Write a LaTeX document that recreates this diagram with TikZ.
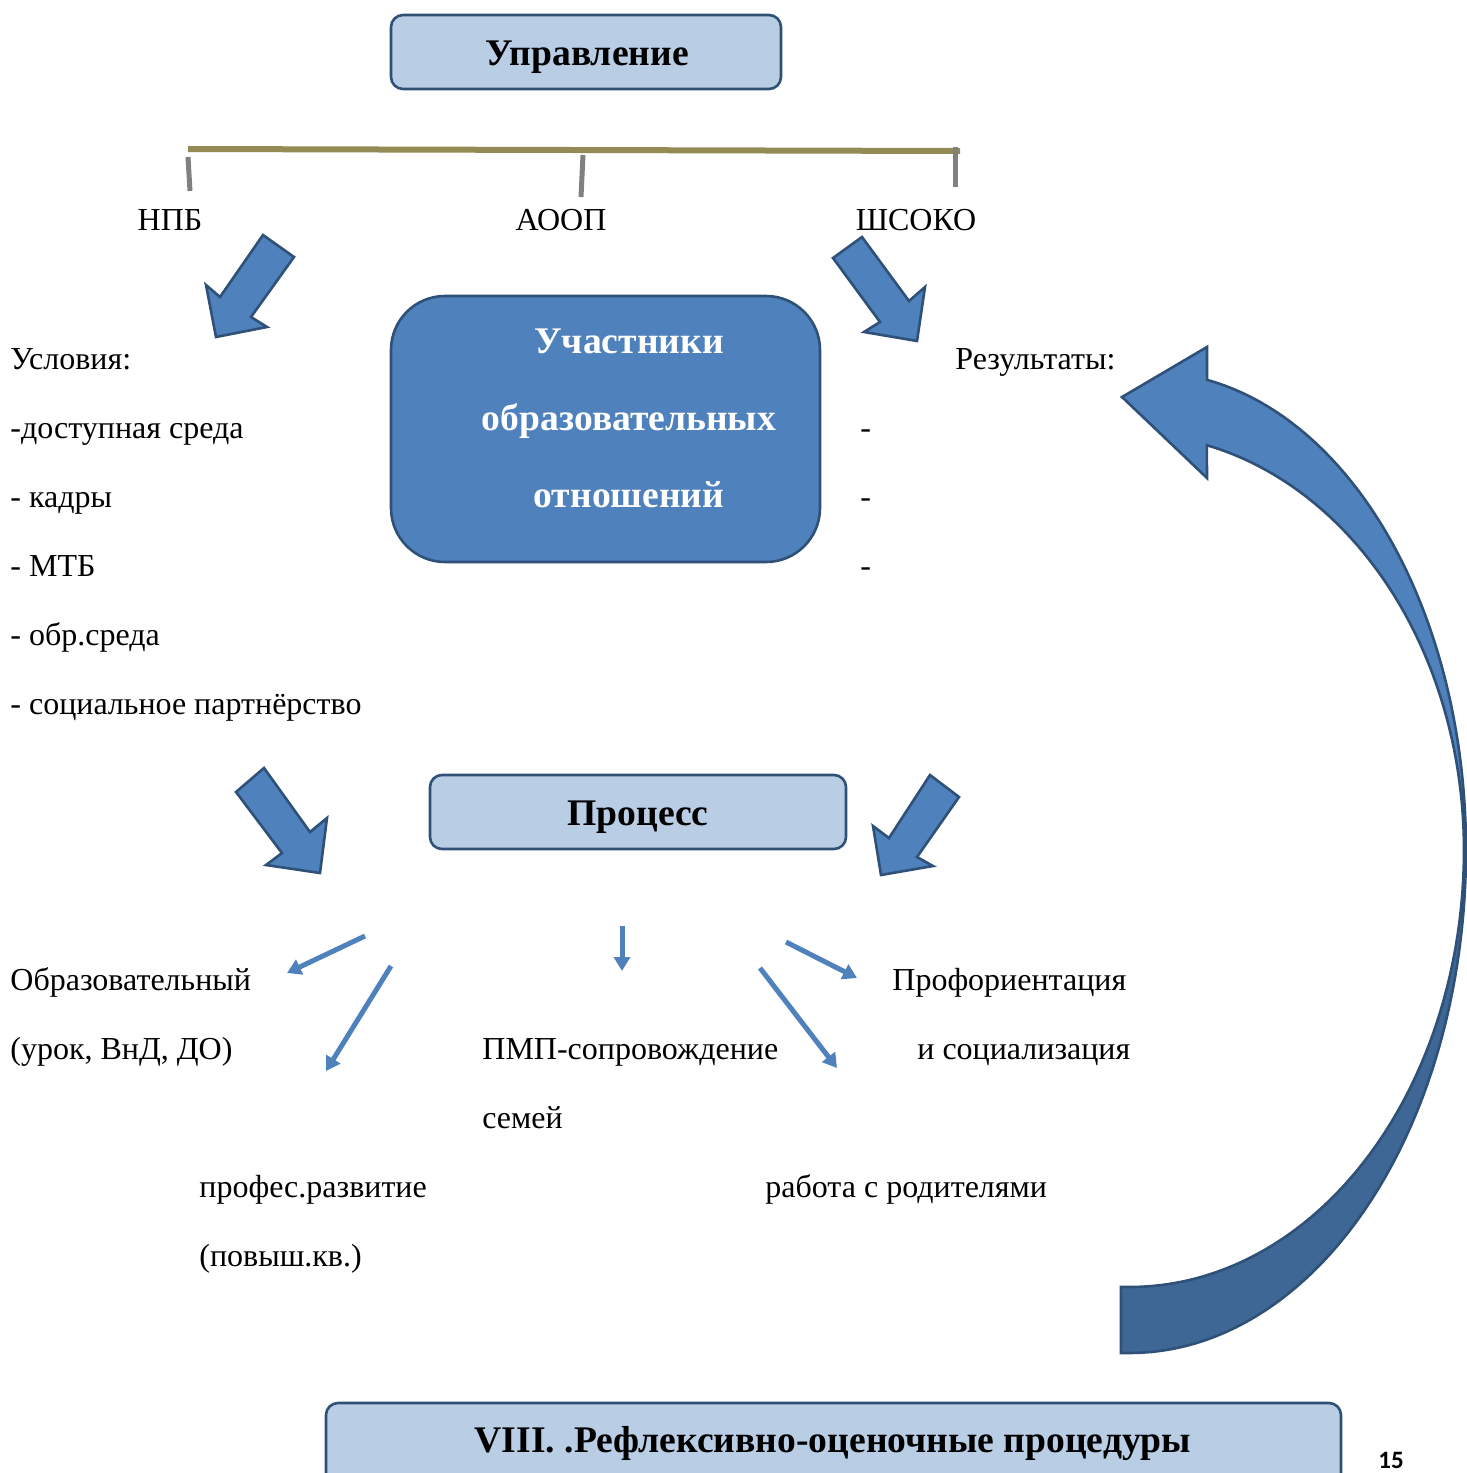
\documentclass[tikz,border=0pt]{standalone}
\usepackage{fontspec}
\setmainfont{Liberation Serif}
\newfontfamily\numfont{Carlito}
\usetikzlibrary{arrows.meta}
\definecolor{lightfill}{HTML}{B9CDE5}
\definecolor{boxline}{HTML}{2F5077}
\definecolor{mainblue}{HTML}{4F81BD}
\definecolor{darkblue}{HTML}{3E6796}
\definecolor{olivec}{HTML}{948A54}
\definecolor{tickgray}{HTML}{808080}
\def\crvpath{(1121,1353) -- plot[domain=90:0,samples=50] ({1130+336*cos(\x)},{850+503*sin(\x)}) -- plot[domain=0:-79.6,samples=50] ({1150+316*cos(\x)},{850+478*sin(\x)}) -- (1207,347) -- (1122,397) -- (1207,478) -- plot[domain=-76.7:0,samples=50] ({1130+334*cos(\x)},{850+416*sin(\x)}) -- plot[domain=0:90,samples=50] ({1130+334*cos(\x)},{850+437*sin(\x)}) -- (1121,1287) -- cycle}
\begin{document}
\begin{tikzpicture}[x=0.5pt,y=-0.5pt,
  txt/.style={anchor=base west, inner sep=0pt, font=\fontsize{16}{19}\selectfont},
  ctxt/.style={anchor=base, inner sep=0pt, font=\fontsize{16}{19}\selectfont},
  btxt/.style={anchor=base, inner sep=0pt, font=\fontsize{18.8}{22}\selectfont\bfseries},
  lightbox/.style={draw=boxline, fill=lightfill, line width=1.3pt, rounded corners=6pt},
  bluebox/.style={draw=boxline, fill=mainblue, line width=1.3pt, rounded corners=27pt},
  blockarrow/.style={draw=boxline, fill=mainblue, line width=1.3pt, line join=miter},
  thinarrow/.style={draw=mainblue, line width=2.5pt, -{Triangle[length=7pt,width=8pt]}},
]
\useasboundingbox (0,0) rectangle (1467,1473);
\clip (0,0) rectangle (1467,1473);

% top box
\path[lightbox] (391,15) rectangle (781,89);
\node[btxt] (upr) at (587,65) {Управление};

% olive bar and ticks
\draw[olivec, line width=3pt] (188,149) -- (960,151);
\draw[tickgray, line width=2.5pt] (188,157) -- (190,191);
\draw[tickgray, line width=2.5pt] (583,155) -- (581,197);
\draw[tickgray, line width=2.5pt] (955,147) -- (955,187);

\node[ctxt] (npb) at (170,230) {НПБ};
\node[ctxt] (aoop) at (561,230) {АООП};
\node[ctxt] (shsoko) at (916,230) {ШСОКО};

% block arrows
\path[blockarrow] (263,235) -- (294,257) -- (251,317) -- (267,327) -- (216,337) -- (206,285) -- (220,297) -- cycle;
\path[blockarrow] (862,237) -- (909,301) -- (925,287) -- (917,341) -- (864,332) -- (880,322) -- (833,258) -- cycle;
\path[blockarrow] (264,768) -- (310,832) -- (327,818) -- (320,873) -- (266,865) -- (282,853) -- (236,792) -- cycle;
\path[blockarrow] (930,775) -- (959,797) -- (917,857) -- (933,866) -- (881,875) -- (873,826) -- (889,838) -- cycle;

% main box
\path[bluebox] (391,296) rectangle (820,562);
\node[btxt, text=white] (uch1) at (629,353) {Участники};
\node[btxt, text=white] (uch2) at (629,430) {образовательных};
\node[btxt, text=white] (uch3) at (629,507) {отношений};

% conditions
\node[txt] (usl) at (10,369) {Условия:};
\node[txt] (usl1) at (10,438) {-доступная среда};
\node[txt] (usl2) at (10,507) {- кадры};
\node[txt] (usl3) at (10,576) {- МТБ};
\node[txt] (usl4) at (10,645) {- обр.среда};
\node[txt] (usl5) at (10,714) {- социальное партнёрство};

% results
\node[txt] (res) at (955,369) {Результаты:};
\node[txt] (res1) at (860,438) {-};
\node[txt] (res2) at (860,507) {-};
\node[txt] (res3) at (860,576) {-};

% process
\path[lightbox] (430,775) rectangle (846,849);
\node[btxt] (proc) at (638,825) {Процесс};

% thin arrows
\coordinate (a1s) at (365,936); \coordinate (a1e) at (287,973);
\coordinate (a2s) at (391,966); \coordinate (a2e) at (326,1071);
\coordinate (a3s) at (622,926); \coordinate (a3e) at (622,971);
\coordinate (a4s) at (786,942); \coordinate (a4e) at (857,978);
\coordinate (a5s) at (760,968); \coordinate (a5e) at (837,1068);
\draw[thinarrow] (a1s) -- (a1e);
\draw[thinarrow] (a2s) -- (a2e);
\draw[thinarrow] (a3s) -- (a3e);
\draw[thinarrow] (a4s) -- (a4e);
\draw[thinarrow] (a5s) -- (a5e);

\node[txt] (obr1) at (10,990) {Образовательный};
\node[txt] (obr2) at (10,1059) {(урок, ВнД, ДО)};
\node[txt] (pmp1) at (482,1059) {ПМП-сопровождение};
\node[txt] (pmp2) at (482,1128) {семей};
\node[txt] (prof1) at (892,990) {Профориентация};
\node[txt] (prof2) at (917,1059) {и социализация};
\node[txt] (pr1) at (199,1197) {профес.развитие};
\node[txt] (pr2) at (199,1266) {(повыш.кв.)};
\node[txt] (rab) at (765,1197) {работа с родителями};

% curved arrow
\begin{scope}
\clip \crvpath;
\fill[mainblue] (1100,300) rectangle (1470,870);
\shade[top color=mainblue, bottom color=darkblue] (1100,870) rectangle (1470,940);
\fill[darkblue] (1100,940) rectangle (1470,1400);
\end{scope}
\draw[boxline, line width=1.3pt, line join=miter] \crvpath;

% bottom box
\path[lightbox] (326,1403) rectangle (1341,1510);
\node[btxt] (refl) at (833,1452) {VIII. .Рефлексивно-оценочные процедуры};

\node[anchor=base west, inner sep=0pt, font=\numfont\fontsize{12.5}{15}\selectfont\bfseries] (pg) at (1378,1468) {15};
\end{tikzpicture}
\end{document}
